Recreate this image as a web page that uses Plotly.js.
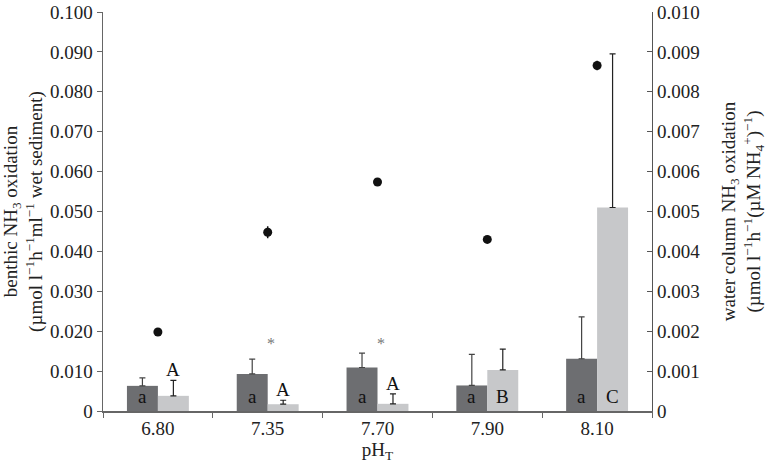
<!DOCTYPE html>
<html>
<head>
<meta charset="utf-8">
<script src="https://cdn.plot.ly/plotly-3.0.1.min.js"></script>
<style>
  body { margin: 0; background: #fff; }
  #myPlot { width: 768px; height: 465px; }
</style>
</head>
<body>
<div id="myPlot"></div>
<script>
// pH categories
const phLabels = ['6.80', '7.35', '7.70', '7.90', '8.10'];

// benthic NH3 oxidation (left axis), dark bars
const benthic = [0.0063, 0.0093, 0.0109, 0.0064, 0.0131];
const benthicErr = [0.0020, 0.0037, 0.0036, 0.0078, 0.0105];

// light bars (left axis units)
const lightBars = [0.0038, 0.0017, 0.0018, 0.0103, 0.0510];
const lightErr = [0.0039, 0.0010, 0.0025, 0.0052, 0.0385];

// water column NH3 oxidation (right axis), dots
const waterCol = [0.00198, 0.00448, 0.00574, 0.00430, 0.00866];
const waterErr = [0.00003, 0.00015, 0.00008, 0.00002, 0.00012];

// significance letters
const darkLetters = ['a', 'a', 'a', 'a', 'a'];
const lightLetters = ['A', 'A', 'A', 'B', 'C'];
const lightInside = [false, false, false, true, true];
const stars = ['', '*', '*', '', ''];
const starLevel = 0.0170;

// tick labels
const leftTicks = [0, 0.01, 0.02, 0.03, 0.04, 0.05, 0.06, 0.07, 0.08, 0.09, 0.1];
const leftTickText = ['0', '0.010', '0.020', '0.030', '0.040', '0.050', '0.060', '0.070', '0.080', '0.090', '0.100'];
const rightTicks = [0, 0.001, 0.002, 0.003, 0.004, 0.005, 0.006, 0.007, 0.008, 0.009, 0.01];
const rightTickText = ['0', '0.001', '0.002', '0.003', '0.004', '0.005', '0.006', '0.007', '0.008', '0.009', '0.010'];

const serif = 'Liberation Serif, Times New Roman, serif';
const darkCol = '#6d6e71';
const lightCol = '#c7c8ca';
const half = 15.5; // half bar width in px, for labels

const traceDark = {
  x: phLabels,
  y: benthic,
  type: 'bar',
  name: 'benthic',
  marker: { color: darkCol },
  error_y: {
    type: 'data', symmetric: false,
    array: benthicErr, arrayminus: benthicErr.map(() => 0),
    color: '#444', thickness: 1.2, width: 3
  }
};

const traceLight = {
  x: phLabels,
  y: lightBars,
  type: 'bar',
  name: 'water column',
  marker: { color: lightCol },
  error_y: {
    type: 'data', symmetric: false,
    array: lightErr, arrayminus: lightErr.map(() => 0),
    color: '#222', thickness: 1.2, width: 3
  }
};

const traceDots = {
  x: phLabels,
  y: waterCol,
  yaxis: 'y2',
  type: 'scatter',
  mode: 'markers',
  name: 'rate',
  marker: { color: '#111', size: 9 },
  error_y: {
    type: 'data', array: waterErr,
    color: '#111', thickness: 1.5, width: 0
  }
};

// annotations use the category index as x
const annotations = [];
phLabels.forEach((p, i) => {
  annotations.push({
    x: i, y: 0, xref: 'x', yref: 'y',
    text: darkLetters[i], showarrow: false,
    xshift: -half, yshift: 2, yanchor: 'bottom',
    font: { family: serif, size: 19, color: '#111' }
  });
  annotations.push({
    x: i, y: lightInside[i] ? 0 : lightBars[i] + lightErr[i],
    xref: 'x', yref: 'y',
    text: lightLetters[i], showarrow: false,
    xshift: half, yshift: lightInside[i] ? 2 : -2, yanchor: 'bottom',
    font: { family: serif, size: 19, color: '#111' }
  });
  if (stars[i]) {
    annotations.push({
      x: i, y: starLevel, xref: 'x', yref: 'y',
      text: stars[i], showarrow: false, xshift: 3,
      font: { family: serif, size: 16, color: '#777' }
    });
  }
});

const layout = {
  width: 768,
  height: 465,
  margin: { l: 103, r: 116, t: 12, b: 54 },
  paper_bgcolor: '#fff',
  plot_bgcolor: '#fff',
  showlegend: false,
  barmode: 'group',
  bargap: 0.436,
  bargroupgap: 0,
  font: { family: serif, size: 17, color: '#222' },
  xaxis: {
    type: 'category',
    range: [-0.5, 4.5],
    showline: true, linecolor: '#666', linewidth: 1.5,
    ticks: 'outside', tickson: 'boundaries', ticklen: 5, tickcolor: '#666',
    tickfont: { family: serif, size: 19, color: '#222' },
    showgrid: false, zeroline: false,
    title: { text: 'pH<sub>T</sub>', font: { family: serif, size: 19 }, standoff: 2 }
  },
  yaxis: {
    range: [0, 0.1],
    tickvals: leftTicks, ticktext: leftTickText,
    showline: true, linecolor: '#666', linewidth: 1.5,
    ticks: 'outside', ticklen: 5, tickcolor: '#666',
    tickfont: { family: serif, size: 19, color: '#222' },
    showgrid: false, zeroline: false,
    title: {
      text: 'benthic NH<sub>3</sub> oxidation<br>(µmol l<sup>−1</sup>h<sup>−1</sup>ml<sup>−1</sup> wet sediment)',
      font: { family: serif, size: 19 }, standoff: 6
    }
  },
  yaxis2: {
    range: [0, 0.01],
    overlaying: 'y', side: 'right', anchor: 'x',
    tickvals: rightTicks, ticktext: rightTickText,
    showline: true, linecolor: '#555', linewidth: 1.2,
    ticks: 'inside', ticklen: 5, tickcolor: '#555',
    tickfont: { family: serif, size: 19, color: '#222' },
    showgrid: false, zeroline: false,
    title: {
      text: 'water column NH<sub>3</sub> oxidation<br>(µmol l<sup>−1</sup>h<sup>−1</sup>(µM NH<sub>4</sub><sup>+</sup>)<sup>−1</sup>)',
      font: { family: serif, size: 19 }, standoff: 22
    }
  },
  annotations: annotations
};

Plotly.newPlot('myPlot', [traceDark, traceLight, traceDots], layout, { displayModeBar: false, staticPlot: true });
</script>
</body>
</html>
